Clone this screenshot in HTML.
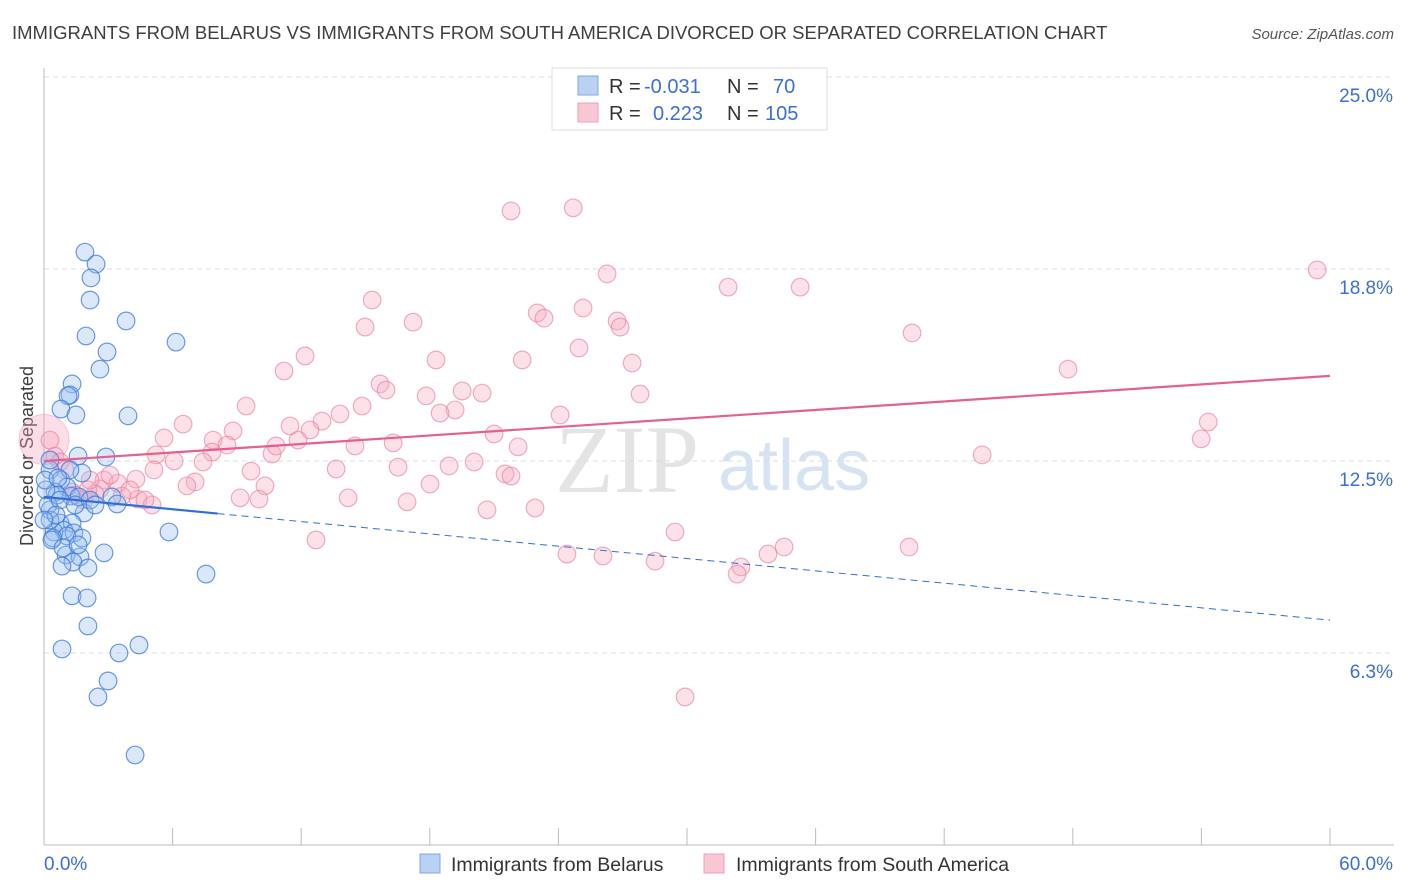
<!DOCTYPE html>
<html><head><meta charset="utf-8">
<style>
body{margin:0;background:#fff;font-family:"Liberation Sans",sans-serif;}
#wrap{position:relative;width:1406px;height:892px;overflow:hidden;}
</style></head>
<body>
<div id="wrap">
<svg id="svg" width="1406" height="892" xmlns="http://www.w3.org/2000/svg" font-family="Liberation Sans, sans-serif">
<text x="12" y="39" font-size="18.5" fill="#3e3e3e">IMMIGRANTS FROM BELARUS VS IMMIGRANTS FROM SOUTH AMERICA DIVORCED OR SEPARATED CORRELATION CHART</text>
<text x="1394" y="39" font-size="15" fill="#555" font-style="italic" text-anchor="end">Source: ZipAtlas.com</text>
<text x="33" y="456" font-size="18" fill="#3e3e3e" text-anchor="middle" transform="rotate(-90 33 456)">Divorced or Separated</text>
<text x="555" y="492" font-size="96" fill="#e4e4e4" font-family="Liberation Serif, serif">ZIP</text>
<text x="718" y="490" font-size="72" fill="#d6e3f3">atlas</text>
<g id="grid"></g><g id="axes"></g><g id="pts"></g><g id="trend"></g>
<g>
<rect x="552" y="68" width="275" height="62" fill="#fff" stroke="#ddd"/>
<rect x="578" y="76" width="20" height="19" fill="#b9d2f3" stroke="#7fa7e0"/>
<rect x="578" y="103" width="20" height="19" fill="#f9c6d3" stroke="#f0a0b5"/>
<text x="609" y="93" font-size="20" fill="#333">R = <tspan fill="#3b6fd4" x="644">-0.031</tspan></text>
<text x="727" y="93" font-size="20" fill="#333">N = <tspan fill="#3b6fd4" x="773">70</tspan></text>
<text x="609" y="120" font-size="20" fill="#333">R = <tspan fill="#3b6fd4" x="653">0.223</tspan></text>
<text x="727" y="120" font-size="20" fill="#333">N = <tspan fill="#3b6fd4" x="765">105</tspan></text>
</g>
<g>
<rect x="420" y="854" width="20" height="19" fill="#b9d2f3" stroke="#7fa7e0"/>
<text x="451" y="871" font-size="19.5" fill="#333">Immigrants from Belarus</text>
<rect x="704" y="854" width="20" height="19" fill="#f9c6d3" stroke="#f0a0b5"/>
<text x="736" y="871" font-size="19.5" fill="#333">Immigrants from South America</text>
</g>
</svg>
</div>
<script>
const xTickValues=[0,6,12,18,24,30,36,42,48,54,60];
const yTickValues=[6.25,12.5,18.75,25];
const yTickLabels=["6.3%","12.5%","18.8%","25.0%"];
const xEndLabels=["0.0%","60.0%"];
const blueX=[1.91,2.43,2.19,2.15,3.83,1.96,6.16,2.94,2.61,1.31,1.21,1.12,0.79,1.49,3.92,1.59,2.89,0.28,1.77,0.79,1.07,0.51,1.26,1.63,3.17,3.41,0.28,1.87,0.75,1.31,0.93,0.47,1.40,1.07,5.83,0.42,1.77,1.03,2.80,1.68,1.35,0.84,2.05,7.56,1.31,2.01,2.05,0.84,3.50,4.43,2.99,2.52,4.25,0.61,0.19,0.37,0.75,0.09,0.28,0.56,0.89,1.45,0.28,0.05,1.21,2.15,0.65,2.38,0,1.59];
const blueY=[19.30,18.91,18.46,17.74,17.06,16.57,16.37,16.05,15.49,15.01,14.65,14.62,14.19,14.00,13.97,12.66,12.63,12.21,12.11,11.88,11.65,11.49,11.36,11.33,11.33,11.10,10.91,10.81,10.48,10.48,10.25,10.19,10.16,10.06,10.19,9.99,9.99,9.44,9.51,9.38,9.21,9.08,9.02,8.82,8.11,8.04,7.13,6.38,6.25,6.51,5.34,4.82,2.93,11.39,11.07,9.93,11.23,11.56,10.58,10.74,9.67,11.07,12.53,11.88,12.21,11.23,11.95,11.07,10.58,9.77];
const pinkX=[21.79,24.69,59.40,26.27,31.92,35.28,15.31,25.15,17.22,23.01,23.33,26.74,26.88,14.98,40.50,24.96,12.18,22.31,18.29,27.44,11.20,47.78,15.68,15.96,19.51,17.83,20.44,27.81,9.43,14.84,19.18,18.48,13.81,24.08,54.32,6.49,12.97,11.48,8.82,12.41,5.60,7.89,21.00,53.99,8.54,11.85,7.84,16.29,22.12,10.64,5.23,6.07,43.77,7.42,14.51,18.90,20.07,10.83,13.63,9.66,16.52,7.05,6.67,10.31,5.13,2.80,3.45,4.29,2.61,18.01,21.51,21.79,9.15,10.03,16.94,14.19,4.39,5.04,2.38,2.05,1.31,1.87,3.64,20.67,22.91,12.69,29.44,24.40,26.08,28.51,34.53,33.78,40.36,32.52,32.34,29.91,0.28,0.51,0.98,1.45,0.75,3.08,4.71,4.01,2.15];
const pinkY=[20.64,20.74,18.72,18.59,18.16,18.16,17.74,17.48,17.02,17.32,17.15,17.06,16.86,16.86,16.67,16.18,15.92,15.79,15.79,15.69,15.43,15.49,15.01,14.81,14.78,14.62,14.71,14.68,14.29,14.29,14.16,14.06,14.03,14.00,13.77,13.70,13.80,13.64,13.48,13.51,13.25,13.18,13.38,13.22,13.02,13.18,12.79,13.09,12.96,12.73,12.70,12.50,12.70,12.47,12.99,12.34,12.47,12.99,12.24,12.17,12.30,11.82,11.69,11.69,12.21,11.88,11.78,11.91,11.59,11.75,12.08,12.01,11.30,11.26,11.17,11.30,11.26,11.07,11.43,11.56,11.49,11.23,11.36,10.91,10.97,9.93,10.19,9.47,9.41,9.24,9.70,9.47,9.70,9.05,8.82,4.82,13.18,12.66,12.21,11.39,12.47,12.04,11.23,11.56,11.88];
const bigPink=[0,13.2];
const pinkTrend=[12.5,15.27];
const blueTrend=[11.33,7.32];
const blueSolidEnd=8.1;

const NS="http://www.w3.org/2000/svg";
const X=v=>44+v/60*1286;
const Y=v=>845-v*30.72;
function mk(tag,attrs,parent){const e=document.createElementNS(NS,tag);for(const k in attrs)e.setAttribute(k,attrs[k]);document.getElementById(parent).appendChild(e);return e;}

yTickValues.forEach((v,i)=>{
  const l=mk('line',{x1:44,x2:1394,y1:Y(v),y2:Y(v),stroke:'#dcdcdc','stroke-dasharray':'5,4'},'grid');
  
  
  const t=mk('text',{x:1393,y:Y(v)+25,'font-size':19,fill:'#3b6fd4','text-anchor':'end'},'grid');
  t.textContent=yTickLabels[i];
  
  
});
const ax=mk('line',{x1:44,x2:44,y1:68,y2:845,stroke:'#bbb'},'axes');


const bx=mk('line',{x1:44,x2:1394,y1:845,y2:845,stroke:'#bbb'},'axes');


xTickValues.forEach(v=>{
  const l=mk('line',{x1:X(v),x2:X(v),y1:828,y2:845,stroke:'#bbb'},'axes');
  
  
});
[[0,44,'start'],[60,1393,'end']].forEach((a,i)=>{
  const t=mk('text',{x:a[1],y:870,'font-size':19,fill:'#3b6fd4','text-anchor':a[2]},'axes');
  t.textContent=xEndLabels[i];
  
  
});
const bp=mk('circle',{cx:X(bigPink[0]),cy:Y(bigPink[1]),r:25,fill:'rgba(244,160,185,0.35)',stroke:'rgba(236,130,160,0.4)'},'pts');


pinkX.forEach((x,i)=>{
  const c=mk('circle',{cx:X(x),cy:Y(pinkY[i]),r:8.8,fill:'rgba(246,170,192,0.35)',stroke:'rgba(232,130,160,0.65)','stroke-width':1.2},'pts');
  
  
});
blueX.forEach((x,i)=>{
  const c=mk('circle',{cx:X(x),cy:Y(blueY[i]),r:8.8,fill:'rgba(150,190,240,0.35)',stroke:'rgba(60,120,220,0.75)','stroke-width':1.2},'pts');
  
  
});
const pt=mk('line',{x1:X(0),y1:Y(pinkTrend[0]),x2:X(60),y2:Y(pinkTrend[1]),stroke:'#e5608c','stroke-width':2.2},'trend');


const by=x=>blueTrend[0]+(blueTrend[1]-blueTrend[0])*x/60;
const bs=mk('line',{x1:X(0),y1:Y(blueTrend[0]),x2:X(blueSolidEnd),y2:Y(by(blueSolidEnd)),stroke:'#2f6fd6','stroke-width':2.2},'trend');


const bd=mk('line',{x1:X(blueSolidEnd),y1:Y(by(blueSolidEnd)),x2:X(60),y2:Y(blueTrend[1]),stroke:'#2f6fd6','stroke-width':1,'stroke-dasharray':'7,5'},'trend');


</script>
</body></html>
